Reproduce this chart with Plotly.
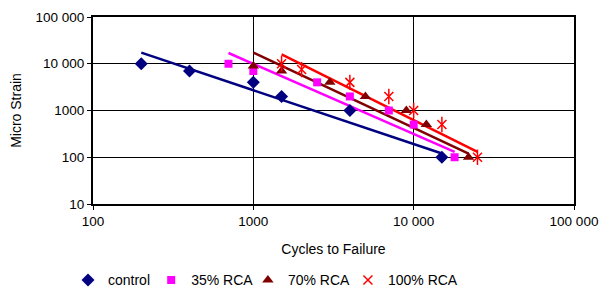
import plotly.graph_objects as go

# Data
control_x = [200, 400, 1000, 1500, 4000, 15000]
control_y = [10000, 7000, 4000, 2000, 1000, 100]

rca35_x = [700, 1000, 2500, 4000, 7000, 10000, 18000]
rca35_y = [10000, 7000, 4000, 2000, 1000, 500, 100]

rca70_x = [1000, 1500, 3000, 5000, 9000, 12000, 22000]
rca70_y = [9000, 7000, 4000, 2000, 1000, 500, 100]

rca100_x = [1500, 2000, 4000, 7000, 10000, 15000, 25000]
rca100_y = [10000, 7500, 4000, 2000, 1000, 500, 100]

# Power trendline end values
trend_control_x = [200, 15000]
trend_control_y = [17250, 120]
trend_35_x = [700, 18000]
trend_35_y = [17000, 130]
trend_70_x = [1000, 22000]
trend_70_y = [17250, 120]
trend_100_x = [1500, 25000]
trend_100_y = [15850, 130]

x_tickvals = [100, 1000, 10000, 100000]
x_ticktext = ["100", "1000", "10 000", "100 000"]
y_tickvals = [10, 100, 1000, 10000, 100000]
y_ticktext = ["10", "100", "1000", "10 000", "100 000"]

NAVY = "#000080"
MAG = "#FF00FF"
DRED = "#800000"
RED = "#FF0000"
FONT = "Liberation Sans, Arial"

fig = go.Figure()

# trendlines
for tx, ty, c in [(trend_control_x, trend_control_y, NAVY),
                  (trend_35_x, trend_35_y, MAG),
                  (trend_70_x, trend_70_y, DRED),
                  (trend_100_x, trend_100_y, RED)]:
    fig.add_trace(go.Scatter(x=tx, y=ty, mode="lines", showlegend=False,
                             line=dict(color=c, width=2.5), hoverinfo="skip"))

fig.add_trace(go.Scatter(x=control_x, y=control_y, mode="markers", name="control",
                         legend="legend",
                         marker=dict(symbol="diamond", size=10, color=NAVY)))
fig.add_trace(go.Scatter(x=rca35_x, y=rca35_y, mode="markers", name="35% RCA",
                         legend="legend2",
                         marker=dict(symbol="square", size=8, color=MAG)))
fig.add_trace(go.Scatter(x=rca70_x, y=rca70_y, mode="markers", name="70% RCA",
                         legend="legend3",
                         marker=dict(symbol="triangle-up", size=10, color=DRED)))
fig.add_trace(go.Scatter(x=rca100_x, y=rca100_y, mode="markers", name="100% RCA",
                         legend="legend4",
                         marker=dict(symbol="x-thin-open", size=9, color=RED,
                                     line=dict(color=RED, width=1.5))))
fig.add_trace(go.Scatter(x=rca100_x, y=rca100_y, mode="markers", showlegend=False,
                         marker=dict(symbol="line-ns-open", size=11, color=RED,
                                     line=dict(color=RED, width=1.5)),
                         hoverinfo="skip"))

axis_common = dict(type="log", showline=True, linecolor="black", linewidth=2,
                   mirror=True, showgrid=True, gridcolor="black", gridwidth=1,
                   ticks="outside", ticklen=4, tickcolor="black", zeroline=False,
                   automargin=False,
                   tickfont=dict(family=FONT, size=13.5, color="black"))

fig.update_xaxes(**axis_common, range=[2, 5], tickvals=x_tickvals, ticktext=x_ticktext,
                 title=dict(text="Cycles to Failure", standoff=16,
                            font=dict(family=FONT, size=14, color="black")))
fig.update_yaxes(**axis_common, range=[1, 5], tickvals=y_tickvals, ticktext=y_ticktext,
                 title=dict(text="Micro Strain", standoff=16,
                            font=dict(family=FONT, size=14, color="black")))

leg_common = dict(orientation="h", y=-0.323, xanchor="left", yanchor="top",
                  font=dict(family=FONT, size=14), itemwidth=30,
                  bgcolor="rgba(0,0,0,0)")

fig.update_layout(
    width=602, height=285,
    margin=dict(l=85, r=36, t=9, b=89, autoexpand=False),
    plot_bgcolor="white", paper_bgcolor="white",
    font=dict(family=FONT, size=13, color="black"),
    legend=dict(x=-0.052, **leg_common),
    legend2=dict(x=0.121, **leg_common),
    legend3=dict(x=0.322, **leg_common),
    legend4=dict(x=0.530, **leg_common),
)

fig.write_html("out.html")
